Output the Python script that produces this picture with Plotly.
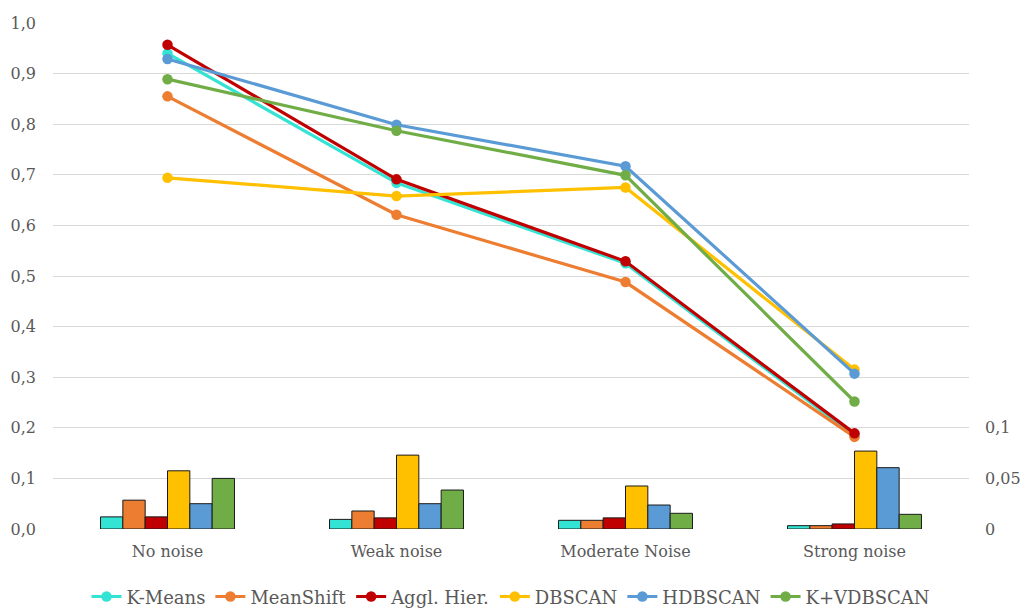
import plotly.graph_objects as go

categories = ["No noise", "Weak noise", "Moderate Noise", "Strong noise"]
methods = ["K-Means", "MeanShift", "Aggl. Hier.", "DBSCAN", "HDBSCAN", "K+VDBSCAN"]
colors = ["#33E3D3", "#ED7D31", "#C00000", "#FFC000", "#5B9BD5", "#70AD47"]

# Score per noise level (left axis)
kmeans_score = [0.940, 0.684, 0.525, 0.185]
meanshift_score = [0.855, 0.621, 0.488, 0.182]
aggl_score = [0.957, 0.691, 0.529, 0.189]
dbscan_score = [0.694, 0.658, 0.675, 0.315]
hdbscan_score = [0.929, 0.799, 0.717, 0.307]
kv_score = [0.889, 0.787, 0.699, 0.252]

# Spread per noise level (right axis)
kmeans_std = [0.012, 0.0095, 0.0086, 0.0033]
meanshift_std = [0.0285, 0.0178, 0.0086, 0.0033]
aggl_std = [0.012, 0.011, 0.011, 0.005]
dbscan_std = [0.0575, 0.073, 0.0425, 0.077]
hdbscan_std = [0.025, 0.025, 0.0237, 0.0606]
kv_std = [0.050, 0.0385, 0.0155, 0.0145]

scores = [kmeans_score, meanshift_score, aggl_score, dbscan_score, hdbscan_score, kv_score]
stds = [kmeans_std, meanshift_std, aggl_std, dbscan_std, hdbscan_std, kv_std]

left_ticks = [0.0, 0.1, 0.2, 0.3, 0.4, 0.5, 0.6, 0.7, 0.8, 0.9, 1.0]
right_ticks = [0, 0.05, 0.1]

FONT = "DejaVu Serif"
TXT = "#595959"
FS = 16

fig = go.Figure()

# Spread bars on the right-hand axis
for name, col, s in zip(methods, colors, stds):
    fig.add_trace(go.Bar(
        x=categories, y=s, name=name, marker=dict(color=col, line=dict(color="#1a1a1a", width=1)),
        showlegend=False, xaxis="x", yaxis="y",
    ))

# Score lines on the left-hand axis, drawn above the bars
for name, col, s in zip(methods, colors, scores):
    fig.add_trace(go.Scatter(
        x=categories, y=s, name=name, mode="lines+markers",
        line=dict(color=col, width=3.2), marker=dict(color=col, size=10.5),
        xaxis="x", yaxis="y2", cliponaxis=False,
    ))

fig.update_layout(
    width=1027, height=610,
    margin=dict(l=53, r=58, t=23, b=81, autoexpand=False),
    paper_bgcolor="white", plot_bgcolor="white",
    separators=", ",
    font=dict(family=FONT, size=FS, color=TXT),
    barmode="group", bargap=0.415, bargroupgap=0,
    xaxis=dict(showgrid=False, showline=False, zeroline=False, ticks="",
               tickfont=dict(family=FONT, size=FS, color=TXT), ticklabelstandoff=11),
    yaxis=dict(side="right", range=[0, 0.5], tickvals=right_ticks, showgrid=False,
               zeroline=False, showline=False, ticks="", ticklabelstandoff=15,
               tickfont=dict(family=FONT, size=FS, color=TXT)),
    yaxis2=dict(overlaying="y", side="left", range=[0, 1.0], tickvals=left_ticks,
                tickformat=".1f", showgrid=True, gridcolor="#D9D9D9", gridwidth=1.3,
                zeroline=False, showline=False, ticks="", ticklabelstandoff=16,
                tickfont=dict(family=FONT, size=FS, color=TXT)),
    legend=dict(orientation="h", x=0.5, xanchor="center", y=-0.134, yanchor="middle",
                font=dict(family=FONT, size=18, color=TXT), bgcolor="rgba(0,0,0,0)"),
)

fig.write_html("out.html")
